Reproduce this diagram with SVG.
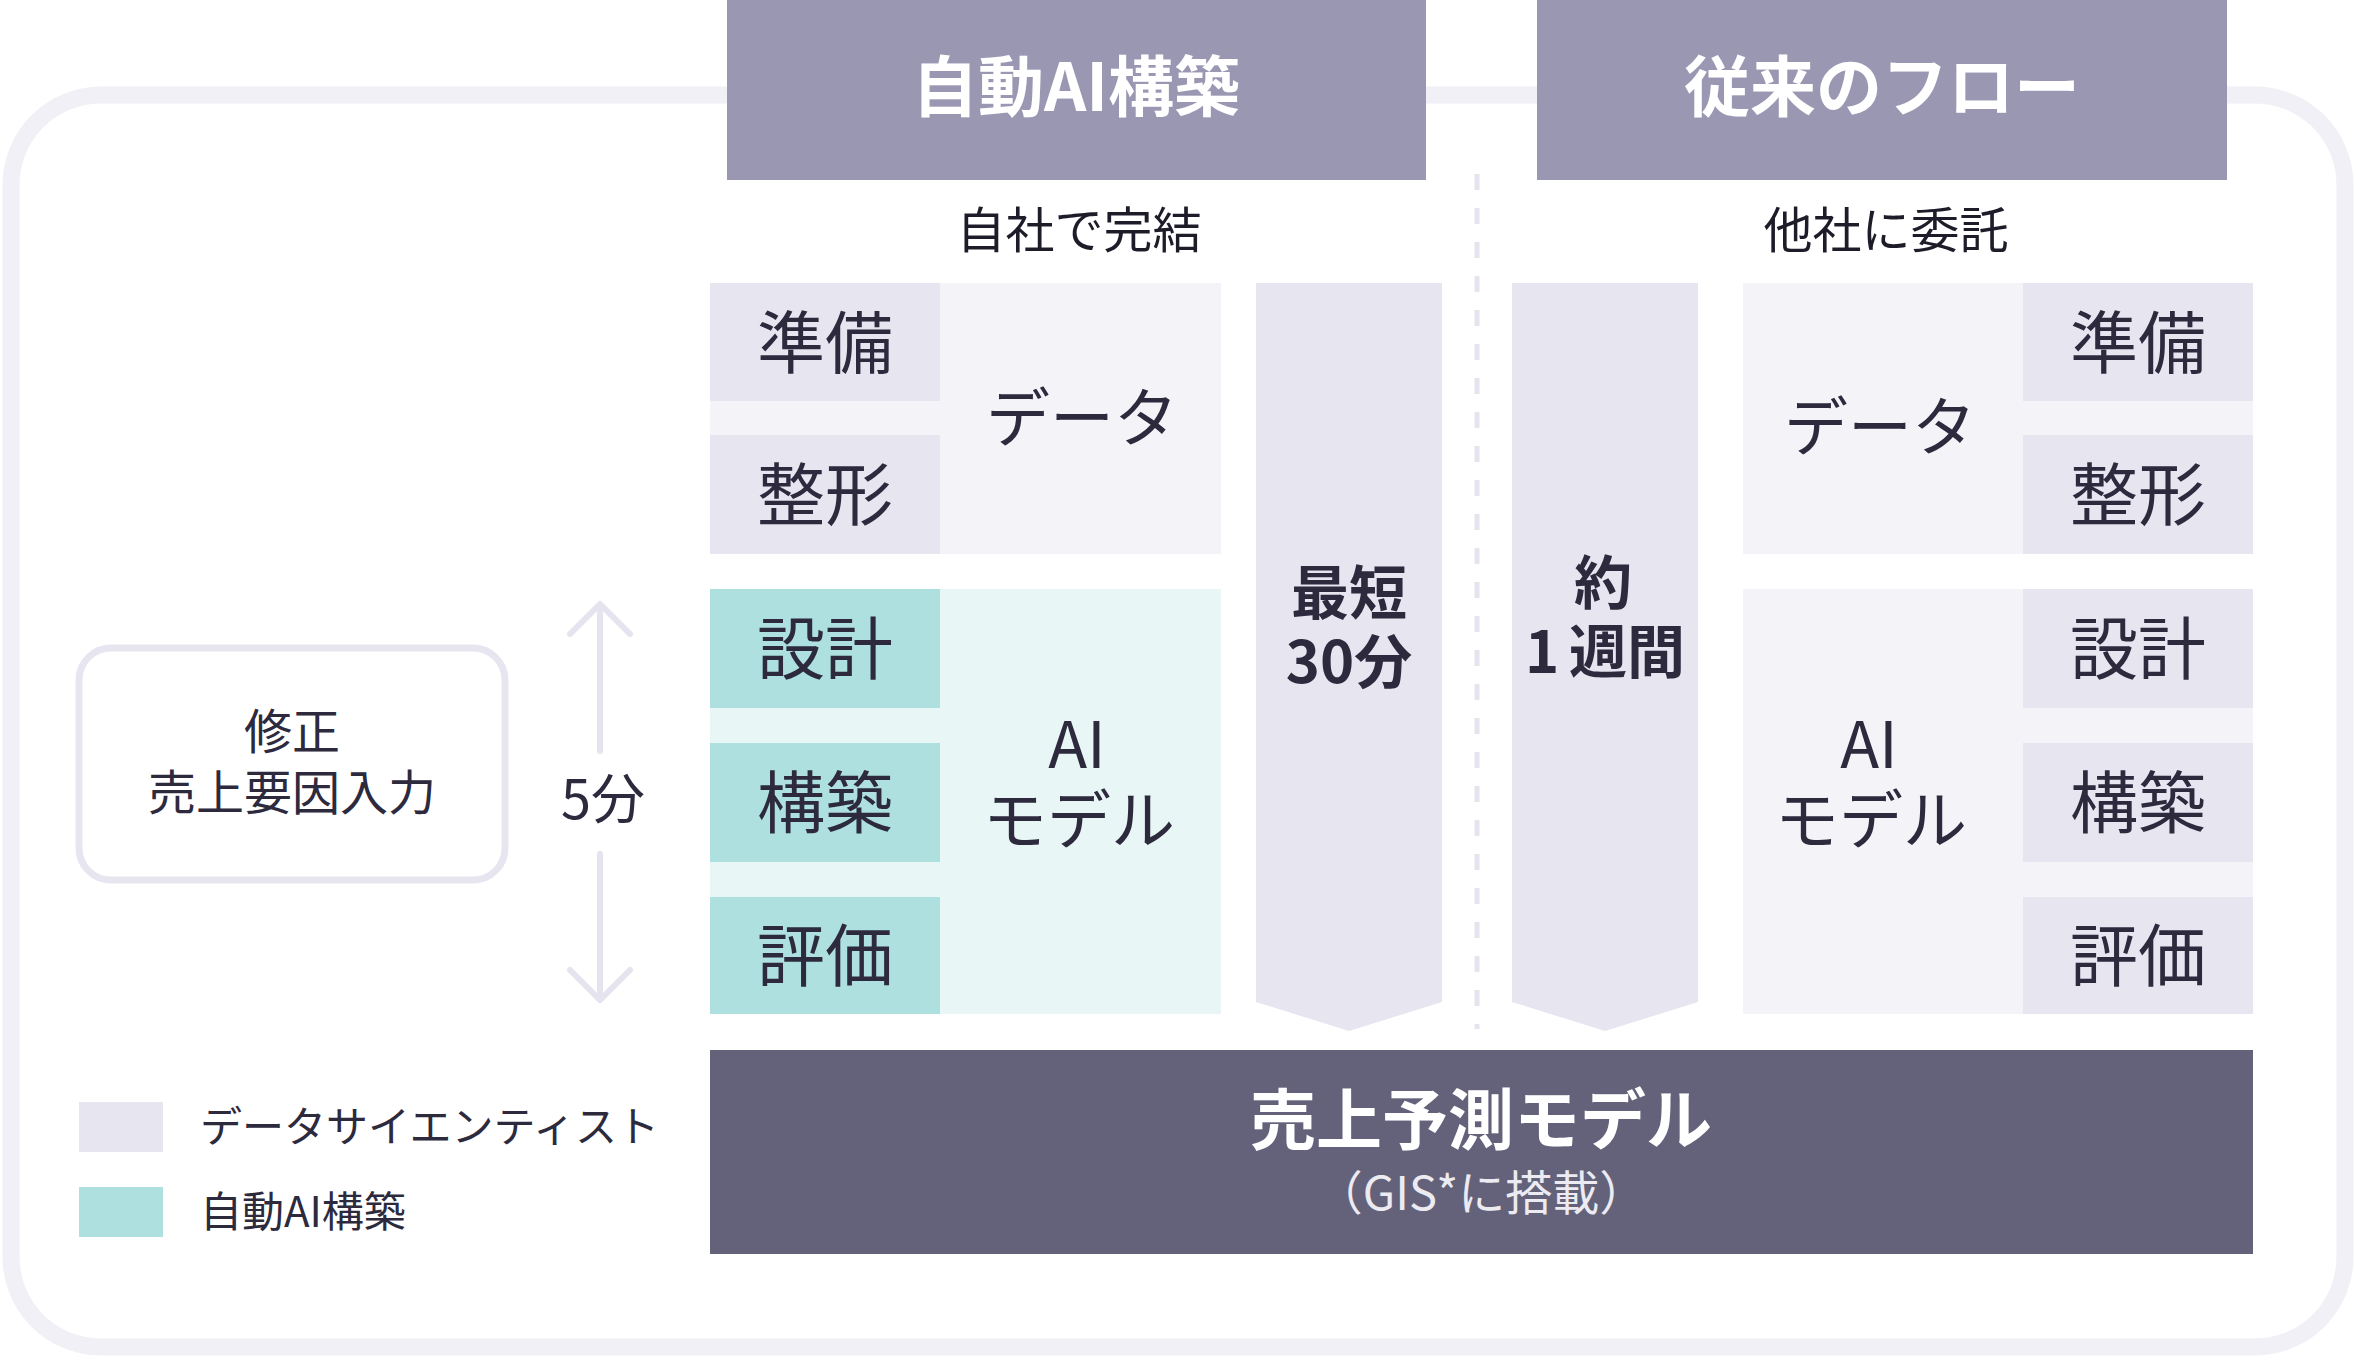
<svg xmlns="http://www.w3.org/2000/svg" width="2356" height="1360" viewBox="0 0 2356 1360">
<style>
text{font-family:"Noto Sans CJK JP","Noto Sans",sans-serif;fill:#2D2A3E;dominant-baseline:central;text-anchor:middle}
.hd{fill:#9A97B2}
.hdt{fill:#fff;font-size:66px;font-weight:700}
.sub{font-size:49px;fill:#1E1C28}
.sm{fill:#E6E5F0}
.dbg{fill:#F4F3F8}
.teal{fill:#ADE0DF}
.tbg{fill:#E8F6F5}
.st{font-size:68px}
.big{font-size:64px}
.bold{font-size:58px;font-weight:700}
.lg{font-size:42px;text-anchor:start}
.arr{fill:none;stroke:#E4E3EE;stroke-width:6;stroke-linecap:round;stroke-linejoin:round}
</style>
<rect x="0" y="0" width="2356" height="1360" fill="#fff"/>
<g id="frame">
<rect x="11" y="95" width="2334" height="1252" rx="90" ry="90" fill="#fff" stroke="#F0F0F6" stroke-width="17"/>
</g>
<g id="connectors">
<line x1="1477" y1="174" x2="1477" y2="1029" stroke="#E4E3EE" stroke-width="5" stroke-dasharray="16 18"/>
<g id="arrow-5min">
<line class="arr" x1="600" y1="605" x2="600" y2="751"/>
<polyline class="arr" points="570,634 600,604 630,634"/>
<line class="arr" x1="600" y1="854" x2="600" y2="999"/>
<polyline class="arr" points="570,970 600,1000 630,970"/>
</g>
</g>
<g id="header-auto">
<rect class="hd" x="727" y="0" width="699" height="180"/>
<text class="hdt" x="1076" y="82">自動AI構築</text>
</g>
<g id="header-conv">
<rect class="hd" x="1537" y="0" width="690" height="180"/>
<text class="hdt" x="1882" y="82">従来のフロー</text>
</g>
<g id="label-self"><text class="sub" x="1079" y="226">自社で完結</text></g>
<g id="label-other"><text class="sub" x="1886" y="226">他社に委託</text></g>
<g id="left-data">
<rect class="dbg" x="710" y="283" width="511" height="271"/>
<rect class="sm" x="710" y="283" width="230" height="118"/>
<rect class="sm" x="710" y="435" width="230" height="119"/>
<text class="st" x="825" y="338">準備</text>
<text class="st" x="825" y="490">整形</text>
<text class="big" x="1082" y="413">データ</text>
</g>
<g id="left-ai">
<rect class="tbg" x="710" y="589" width="511" height="425"/>
<rect class="teal" x="710" y="589" width="230" height="119"/>
<rect class="teal" x="710" y="743" width="230" height="119"/>
<rect class="teal" x="710" y="897" width="230" height="117"/>
<text class="st" x="825" y="644">設計</text>
<text class="st" x="825" y="798">構築</text>
<text class="st" x="825" y="951">評価</text>
<text class="big" x="1077" y="740">AI<tspan x="1079" dy="75">モデル</tspan></text>
</g>
<g id="time-auto">
<polygon class="sm" points="1256,283 1442,283 1442,1002 1349,1031 1256,1002"/>
<text class="bold" x="1349" y="589">最短<tspan x="1349" dy="69">30分</tspan></text>
</g>
<g id="time-conv">
<polygon class="sm" points="1512,283 1698,283 1698,1002 1605,1031 1512,1002"/>
<text class="bold" x="1603" y="579">約<tspan x="1605" dy="69">1</tspan><tspan dx="10">週間</tspan></text>
</g>
<g id="right-data">
<rect class="dbg" x="1743" y="283" width="510" height="271"/>
<rect class="sm" x="2023" y="283" width="230" height="118"/>
<rect class="sm" x="2023" y="435" width="230" height="119"/>
<text class="st" x="2138" y="338">準備</text>
<text class="st" x="2138" y="490">整形</text>
<text class="big" x="1880" y="422">データ</text>
</g>
<g id="right-ai">
<rect class="dbg" x="1743" y="589" width="510" height="425"/>
<rect class="sm" x="2023" y="589" width="230" height="119"/>
<rect class="sm" x="2023" y="743" width="230" height="119"/>
<rect class="sm" x="2023" y="897" width="230" height="117"/>
<text class="st" x="2138" y="644">設計</text>
<text class="st" x="2138" y="798">構築</text>
<text class="st" x="2138" y="951">評価</text>
<text class="big" x="1869" y="740">AI<tspan x="1871" dy="75">モデル</tspan></text>
</g>
<g id="result">
<rect x="710" y="1050" width="1543" height="204" fill="#64627A"/>
<text x="1481" y="1115" style="fill:#fff;font-size:66px;font-weight:700">売上予測モデル</text>
<text x="1481" y="1189" style="fill:#ECEBF2;font-size:47px">（GIS*に搭載）</text>
</g>
<g id="modify">
<rect x="79" y="648" width="426" height="232" rx="32" ry="32" fill="#fff" stroke="#E6E5F0" stroke-width="7"/>
<text x="292" y="728" style="font-size:48px">修正<tspan x="292" dy="61">売上要因入力</tspan></text>
</g>
<g id="label-5min"><text x="603" y="795" style="font-size:54px">5分</text></g>
<g id="legend">
<rect class="sm" x="79" y="1102" width="84" height="50"/>
<rect class="teal" x="79" y="1187" width="84" height="50"/>
<text class="lg" x="200" y="1123">データサイエンティスト</text>
<text class="lg" x="200" y="1208">自動AI構築</text>
</g>
</svg>
